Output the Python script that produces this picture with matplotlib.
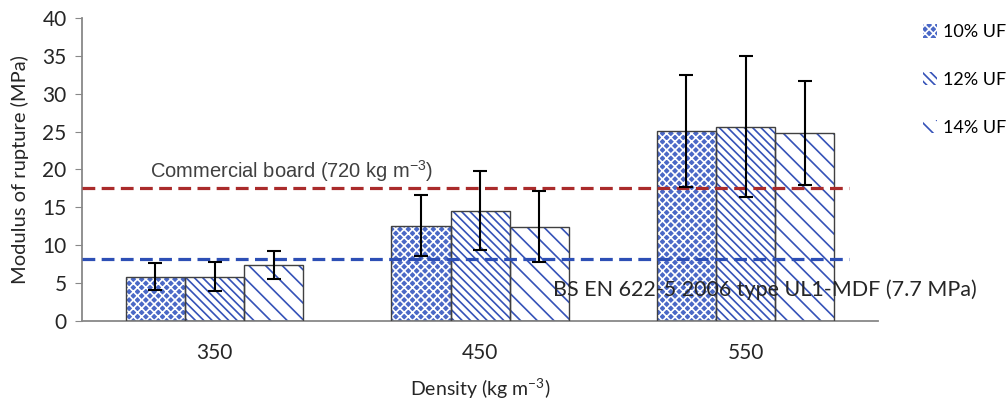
import matplotlib.pyplot as plt
import numpy as np

plt.rcParams['font.family'] = ['Lato', 'DejaVu Sans']
plt.rcParams['hatch.linewidth'] = 1.2

densities = ['350', '450', '550']
series = ['10% UF', '12% UF', '14% UF']
mor = [[5.85, 12.6, 25.1],
       [5.85, 14.55, 25.65],
       [7.45, 12.45, 24.8]]
mor_err = [[1.75, 4.05, 7.4],
           [1.95, 5.2, 9.3],
           [1.85, 4.65, 6.85]]
commercial = 17.5
standard = 8.15

x = np.arange(len(densities))
w = 0.223
blue = '#3552b8'
hatches = ['xxxx', '\\\\\\\\', '\\\\']
faces = ['#4a68c6', 'white', 'white']
hcols = ['white', blue, blue]

fig = plt.figure(figsize=(10.08, 4.05), dpi=100)
ax = fig.add_axes([0.0813, 0.2074, 0.79, 0.7482])

bars = []
for i in range(3):
    pos = x + (i - 1) * w
    b = ax.bar(pos, mor[i], w, color=faces[i], edgecolor=hcols[i],
               hatch=hatches[i], linewidth=0, zorder=2, label=series[i])
    ax.bar(pos, mor[i], w, fill=False, edgecolor='#404040', linewidth=1.0, zorder=3)
    bars.append(b)

ax.hlines(commercial, -0.5, 2.39, colors='#aa2b2b', linestyles=(0, (4, 2)), linewidth=2.3, zorder=4)
ax.hlines(standard, -0.5, 2.39, colors='#2d4fb5', linestyles=(0, (4, 2)), linewidth=2.3, zorder=4)

for i in range(3):
    pos = x + (i - 1) * w
    ax.errorbar(pos, mor[i], yerr=mor_err[i], fmt='none', ecolor='black',
                elinewidth=1.5, capsize=5, capthick=1.5, zorder=5)

ax.text(-0.242, commercial + 0.6, 'Commercial board (720 kg m$^{\\mathregular{-3}}$)',
        family='Liberation Sans', fontsize=14.5, color='#404040', va='bottom', ha='left', zorder=6)
ax.text(1.274, 4.1, 'BS EN 622-5 2006 type UL1-MDF (7.7 MPa)',
        fontsize=15.5, color='#262626', va='center', ha='left', zorder=6, clip_on=False)

ax.set_xlim(-0.5, 2.5)
ax.set_ylim(0, 40)
ax.set_yticks(range(0, 41, 5))
ax.set_xticks(x)
ax.set_xticklabels(densities)
ax.tick_params(axis='x', length=0, pad=16, labelsize=15, colors='#262626')
ax.tick_params(axis='y', length=5, pad=6, color='#888888', labelsize=15, labelcolor='#262626')
for s in ['top', 'right']:
    ax.spines[s].set_visible(False)
ax.spines['left'].set_color('#888888')
ax.spines['bottom'].set_color('#888888')
ax.spines['bottom'].set_linewidth(1.3)
ax.spines['left'].set_linewidth(1.3)

ax.set_ylabel('Modulus of rupture (MPa)', fontsize=14.5, color='#262626', labelpad=10)
ax.set_xlabel('Density (kg m$^{\\mathregular{-3}}$)', fontsize=14, color='#262626', labelpad=9)

leg = fig.legend(handles=bars, labels=series, loc='upper left', bbox_to_anchor=(0.9, 0.98),
                 frameon=False, fontsize=13, handlelength=0.75, handleheight=0.75,
                 handletextpad=0.35, labelspacing=1.75)

fig.savefig('out.png', dpi=100)
